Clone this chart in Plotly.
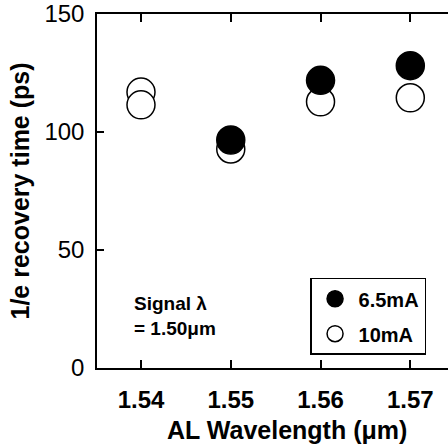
import plotly.graph_objects as go

# Data
x_10mA = [1.54, 1.54, 1.55, 1.56, 1.57]
y_10mA = [116.9, 111.5, 92.8, 112.8, 114.5]
x_65mA = [1.55, 1.56, 1.57]
y_65mA = [96.6, 121.9, 128.1]
x_ticks = [1.54, 1.55, 1.56, 1.57]
x_ticktext = ["<b>1.54</b>", "<b>1.55</b>", "<b>1.56</b>", "<b>1.57</b>"]
y_ticks = [0, 50, 100, 150]

FONT = "Liberation Sans, Arial, sans-serif"

fig = go.Figure()
fig.add_trace(go.Scatter(
    x=x_10mA, y=y_10mA, mode="markers", name="<b>10mA</b>", legendrank=2,
    legendgroup="b",
    marker=dict(size=28, color="white", line=dict(color="black", width=1.5)),
))
fig.add_trace(go.Scatter(
    x=x_65mA, y=y_65mA, mode="markers", name="<b>6.5mA</b>", legendrank=1,
    legendgroup="a",
    marker=dict(size=28, color="black", line=dict(color="black", width=1.5)),
))

fig.update_layout(
    width=448, height=445,
    margin=dict(l=97, r=0, t=12, b=77),
    paper_bgcolor="white", plot_bgcolor="white",
    font=dict(family=FONT, color="black", size=22),
    showlegend=True,
    legend=dict(
        x=0.607, y=0.255, xanchor="left", yanchor="top",
        bordercolor="black", borderwidth=1.5, bgcolor="white",
        font=dict(size=20, family=FONT, color="black"),
        traceorder="grouped", tracegroupgap=6, itemwidth=37,
    ),
    xaxis=dict(
        range=[1.5351, 1.5742], tickvals=x_ticks, ticktext=x_ticktext,
        showline=True, linecolor="black", linewidth=1.5, mirror="ticks",
        ticks="inside", ticklen=8, tickwidth=1.5, tickcolor="black",
        showgrid=False, zeroline=False, ticklabelstandoff=9,
        ticklabeloverflow="allow",
        tickfont=dict(size=24, family=FONT),
    ),
    yaxis=dict(
        range=[0, 150], tickvals=y_ticks,
        showline=True, linecolor="black", linewidth=1.5, mirror=False,
        ticks="inside", ticklen=7, tickwidth=1.5, tickcolor="black",
        showgrid=False, zeroline=False, ticklabelstandoff=6,
        ticklabeloverflow="allow",
        tickfont=dict(size=24, family=FONT),
        title=dict(text="<b>1/e recovery time (ps)</b>", font=dict(size=25, family=FONT), standoff=8),
    ),
    annotations=[
        dict(
            text="<b>Signal λ<br>= 1.50μm</b>", xref="paper", yref="paper",
            x=0.0997, y=0.146, xanchor="left", yanchor="middle", align="left",
            showarrow=False, font=dict(size=19, family=FONT, color="black"),
        ),
        dict(
            text="<b>AL Wavelength (μm)</b>", xref="paper", yref="paper",
            x=0.541, y=-0.174, xanchor="center", yanchor="middle",
            showarrow=False, font=dict(size=25, family=FONT, color="black"),
        ),
    ],
)

fig.write_html("out.html")
